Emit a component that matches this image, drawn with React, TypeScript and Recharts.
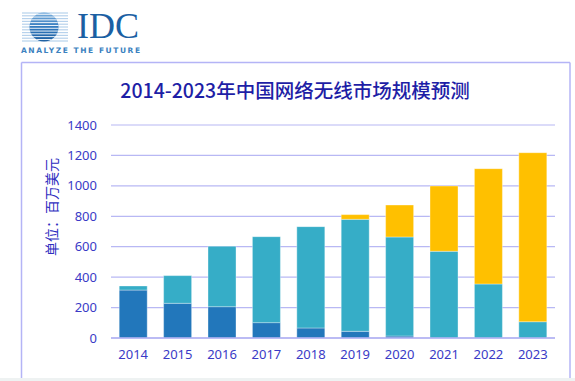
import React from "react";
import { BarChart, Bar, XAxis, YAxis, CartesianGrid } from "recharts";

const years = ["2014", "2015", "2016", "2017", "2018", "2019", "2020", "2021", "2022", "2023"];
const legacyWireless = [315, 228, 206, 101, 66, 44, 13, 0, 0, 0];
const currentWireless = [27, 182, 397, 565, 666, 736, 651, 570, 355, 107];
const nextWireless = [0, 0, 0, 0, 0, 31, 210, 429, 758, 1111];
const yTicks = [0, 200, 400, 600, 800, 1000, 1200, 1400];

const data = years.map((y, i) => ({
  year: y,
  a: legacyWireless[i],
  b: currentWireless[i],
  c: nextWireless[i],
}));

const stripeYs = [13, 15.8, 18.6, 21.4, 24.2, 27, 29.8, 32.6, 35.4, 38.2, 41];

function Decor() {
  return (
    <svg width={575} height={381} style={{ position: "absolute", left: 0, top: 0 }}>
      <defs>
        <clipPath id="globe">
          <circle cx={44} cy={27} r={14.5} />
        </clipPath>
        <linearGradient id="gg" x1="0" y1="0" x2="0" y2="1">
          <stop offset="0%" stopColor="#7fb2de" />
          <stop offset="50%" stopColor="#2f78bd" />
          <stop offset="100%" stopColor="#1c5d9e" />
        </linearGradient>
      </defs>
      <rect x={0} y={0} width={575} height={381} fill="#ffffff" />
      {stripeYs.map((y, i) => (
        <rect key={"l" + i} x={22} y={y - 0.6} width={46} height={1.2} fill="#b7d2ec" />
      ))}
      <g clipPath="url(#globe)">
        <rect x={28} y={12} width={32} height={31} fill="url(#gg)" />
        {stripeYs.map((y, i) => (
          <rect key={"w" + i} x={28} y={y + 0.8} width={32} height={0.9} fill="#ffffff" />
        ))}
      </g>
      <text x={77} y={38} fontFamily="'Liberation Serif', serif" fontSize={36} fill="#1b5fa3">
        IDC
      </text>
      <text
        x={21}
        y={53}
        fontFamily="'DejaVu Sans', sans-serif"
        fontSize={7.5}
        fontWeight={700}
        fill="#3c82c0"
        textLength={119}
        lengthAdjust="spacing"
      >
        ANALYZE THE FUTURE
      </text>
      <line x1={21.5} y1={62.5} x2={570} y2={62.5} stroke="#b4b4f6" strokeWidth={1.5} />
      <line x1={21.5} y1={62.5} x2={21.5} y2={378} stroke="#b4b4f6" strokeWidth={1.5} />
      <line x1={570} y1={62.5} x2={570} y2={378} stroke="#b4b4f6" strokeWidth={1.5} />
      <rect x={0} y={378} width={575} height={3} fill="#eef2f2" />
      <text
        x={295}
        y={98}
        textAnchor="middle"
        fontFamily="'Noto Sans CJK SC', 'Noto Sans', sans-serif"
        fontSize={19.5}
        fontWeight={500}
        fill="#1e1ea6"
      >
        2014-2023年中国网络无线市场规模预测
      </text>
      <text
        x={0}
        y={0}
        transform="translate(57 207) rotate(-90)"
        textAnchor="middle"
        fontFamily="'Noto Sans CJK SC', sans-serif"
        fontSize={14}
        fill="#2e2ec0"
      >
        单位：百万美元
      </text>
    </svg>
  );
}

export default function App() {
  const tickStyle = { fill: "#3a3ac6", fontSize: 13, fontFamily: "'Noto Sans', sans-serif" };
  return (
    <div style={{ position: "absolute", left: 0, top: 0, width: 575, height: 381, overflow: "hidden" }}>
      <Decor />
      <div style={{ position: "absolute", left: 0, top: 0 }}>
        <BarChart
          width={575}
          height={381}
          data={data}
          margin={{ top: 125, right: 20, bottom: 13, left: 51 }}
          barCategoryGap="18.5%"
        >
          <CartesianGrid vertical={false} stroke="#b8b8f4" strokeWidth={1.2} />
          <XAxis
            dataKey="year"
            height={30}
            tickLine={false}
            axisLine={{ stroke: "#b0b0f2", strokeWidth: 1.5 }}
            tick={tickStyle}
            tickMargin={6}
            interval={0}
          />
          <YAxis
            width={60}
            domain={[0, 1400]}
            ticks={yTicks}
            tickLine={false}
            axisLine={false}
            tick={tickStyle}
            tickMargin={8}
          />
          <Bar dataKey="a" stackId="s" fill="#2277bb" stroke="rgba(255,255,255,0.35)" strokeWidth={1} isAnimationActive={false} />
          <Bar dataKey="b" stackId="s" fill="#36adc7" stroke="rgba(255,255,255,0.35)" strokeWidth={1} isAnimationActive={false} />
          <Bar dataKey="c" stackId="s" fill="#ffc000" stroke="rgba(255,255,255,0.35)" strokeWidth={1} isAnimationActive={false} />
        </BarChart>
      </div>
    </div>
  );
}
